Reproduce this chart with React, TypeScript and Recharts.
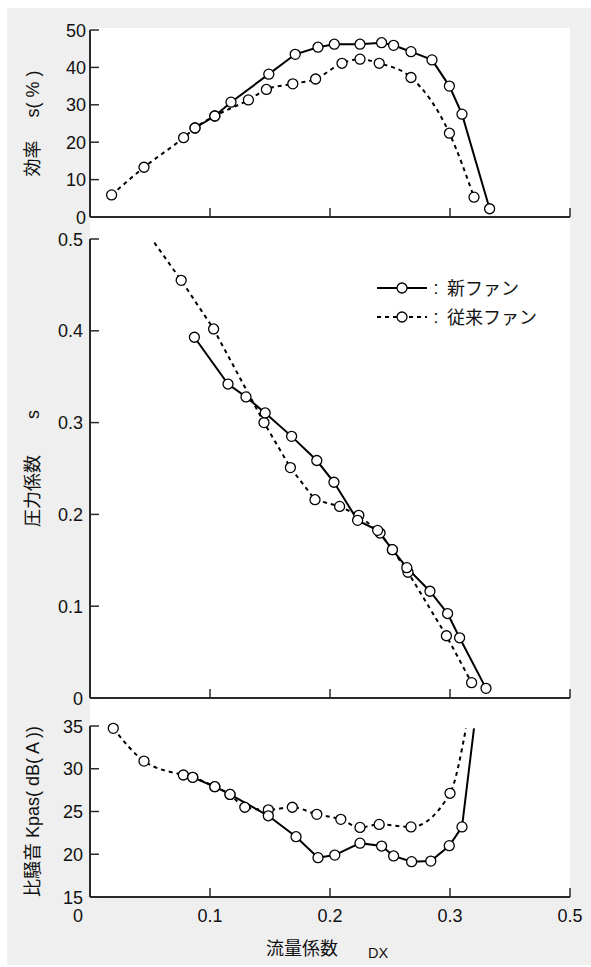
import React from 'react';
import { LineChart, Line, XAxis, YAxis, Legend } from 'recharts';

// ---------- axis ticks ----------
const xTicks = [0, 0.1, 0.2, 0.3, 0.4];
const xTickLabels = ['0', '0.1', '0.2', '0.3', '0.5'];
const effTicks = [0, 10, 20, 30, 40, 50];
const presTicks = [0, 0.1, 0.2, 0.3, 0.4, 0.5];
const noiseTicks = [15, 20, 25, 30, 35];

// ---------- series names / axis titles ----------
const seriesNames = ['新ファン', '従来ファン'];
const effTitle = '効率　 s( % )';
const presTitle = '圧力係数　　s';
const noiseTitle = '比騒音 Kpas( dB( A ))';
const xTitle = '流量係数';
const xSub = 'DX';

// ---------- efficiency (%) ----------
const effNewQ = [0.0875, 0.104, 0.1175, 0.149, 0.171, 0.19, 0.2036, 0.225, 0.243, 0.253, 0.2675, 0.285, 0.2995, 0.31, 0.333];
const effNewV = [23.8, 27, 30.7, 38.2, 43.5, 45.4, 46.2, 46.2, 46.6, 45.9, 44.2, 42, 35, 27.5, 2.2];
const effOldQ = [0.018, 0.045, 0.078, 0.0875, 0.104, 0.132, 0.147, 0.169, 0.188, 0.21, 0.225, 0.241, 0.2675, 0.2995, 0.32];
const effOldV = [5.9, 13.3, 21.2, 23.8, 27, 31.3, 34.1, 35.6, 36.9, 41.1, 42.2, 41.1, 37.3, 22.4, 5.3];

// ---------- pressure coefficient ----------
const presNewQ = [0.087, 0.115, 0.13, 0.146, 0.168, 0.189, 0.2033, 0.223, 0.2397, 0.252, 0.264, 0.2833, 0.298, 0.308, 0.33];
const presNewV = [0.393, 0.342, 0.328, 0.3105, 0.285, 0.2587, 0.235, 0.1935, 0.1826, 0.1616, 0.142, 0.1163, 0.092, 0.0656, 0.0105];
const presOldQ = [0.0536, 0.076, 0.103, 0.145, 0.167, 0.1875, 0.208, 0.224, 0.2417, 0.252, 0.265, 0.297, 0.318];
const presOldV = [0.496, 0.455, 0.402, 0.3, 0.251, 0.216, 0.2087, 0.199, 0.1797, 0.1616, 0.137, 0.0678, 0.0167];
const presOldBare = [0];

// ---------- specific noise ----------
const noiseNewQ = [0.0856, 0.104, 0.1167, 0.1486, 0.1717, 0.19, 0.204, 0.225, 0.243, 0.253, 0.268, 0.284, 0.2994, 0.31, 0.32];
const noiseNewV = [29.0, 27.9, 27.0, 24.5, 22.05, 19.6, 19.9, 21.3, 20.96, 19.8, 19.13, 19.2, 21.0, 23.2, 34.73];
const noiseNewBare = [14];
const noiseOldQ = [0.0194, 0.045, 0.0778, 0.0856, 0.104, 0.1167, 0.129, 0.1486, 0.1686, 0.189, 0.209, 0.225, 0.241, 0.2675, 0.3, 0.3133];
const noiseOldV = [34.73, 30.9, 29.27, 29.0, 27.9, 27.0, 25.5, 25.2, 25.5, 24.67, 24.08, 23.14, 23.49, 23.2, 27.13, 34.73];
const noiseOldBare = [15];

const zip = (q: number[], v: number[]) => q.map((x, i) => ({ q: x, v: v[i] }));

const FONT = '"Liberation Sans", Arial, "Noto Sans CJK JP", sans-serif';
const AXIS = '#2a2a2a';
const TICK_LEN = 9;

const makeDot = (bare: number[]) => (props: any) => {
  const { cx, cy, index } = props;
  if (bare.includes(index) || cx == null || cy == null) return <g key={`d${index}`} />;
  return <circle key={`d${index}`} cx={cx} cy={cy} r={5} fill="#fff" stroke="#000" strokeWidth={1.3} />;
};

const XTickMark = (props: any) => {
  const { x, y } = props;
  return <line x1={x} y1={y} x2={x} y2={y - TICK_LEN} stroke={AXIS} strokeWidth={1.5} />;
};

const XTickLabeled = (props: any) => {
  const { x, y, index } = props;
  const first = index === 0;
  return (
    <g>
      <line x1={x} y1={y} x2={x} y2={y - TICK_LEN} stroke={AXIS} strokeWidth={1.5} />
      <text x={first ? x - 7 : x} y={y + 25} textAnchor={first ? 'end' : 'middle'} fontSize={18} fill="#111" fontFamily={FONT}>
        {xTickLabels[index]}
      </text>
    </g>
  );
};

const makeYTick = (fmt: (v: number) => string, gap: number) => (props: any) => {
  const { x, y, payload } = props;
  return (
    <g>
      <line x1={x} y1={y} x2={x + TICK_LEN} y2={y} stroke={AXIS} strokeWidth={1.5} />
      <text x={x - gap} y={y + 6.5} textAnchor="end" fontSize={18} fill="#111" fontFamily={FONT}>
        {fmt(payload.value)}
      </text>
    </g>
  );
};

const makeYTitle = (title: string) => (props: any) => {
  const vb = props.viewBox || {};
  const cx = vb.x - 56;
  const cy = vb.y + vb.height / 2;
  return (
    <text x={cx} y={cy} transform={`rotate(-90 ${cx} ${cy})`} textAnchor="middle" dominantBaseline="central" fontSize={18} fill="#111" fontFamily={FONT}>
      {title}
    </text>
  );
};

const XTitle = (props: any) => {
  const vb = props.viewBox || {};
  return (
    <g>
      <text x={vb.x + 212} y={vb.y + 58} textAnchor="middle" fontSize={18} fill="#111" fontFamily={FONT}>{xTitle}</text>
      <text x={vb.x + 278} y={vb.y + 61} textAnchor="start" fontSize={14.5} fill="#111" fontFamily={FONT}>{xSub}</text>
    </g>
  );
};

const LegendBox = () => (
  <svg width={200} height={60} style={{ display: 'block' }}>
    {seriesNames.map((name, i) => {
      const y = 13 + i * 29;
      return (
        <g key={name}>
          <line x1={7} y1={y} x2={57} y2={y} stroke="#000" strokeWidth={2} strokeDasharray={i === 1 ? '4 4' : undefined} />
          <circle cx={32} cy={y} r={5} fill="#fff" stroke="#000" strokeWidth={1.3} />
          <text x={66} y={y + 6} textAnchor="middle" fontSize={18} fill="#111" fontFamily={FONT}>:</text>
          <text x={77} y={y + 6.5} fontSize={18} fill="#111" fontFamily={FONT}>{name}</text>
        </g>
      );
    })}
  </svg>
);

const W = 584;
const M_LEFT = 82;
const M_RIGHT = 21;

export default function App() {
  const lineCommon = { isAnimationActive: false, stroke: '#000', strokeWidth: 2, dataKey: 'v' } as const;
  return (
    <>
      <style>{`html,body{margin:0;padding:0;overflow:hidden;background:#fff}`}</style>
      <div style={{ position: 'relative', marginLeft: 7, marginTop: 8, width: W, height: 957, background: '#efefef', fontFamily: FONT }}>
        <div style={{ position: 'absolute', left: 83, top: 20, width: 480, height: 869, background: '#fff' }} />

        {/* efficiency */}
        <div style={{ position: 'absolute', left: 0, top: 0 }}>
          <LineChart width={W} height={222} margin={{ top: 22, right: M_RIGHT, bottom: 12, left: M_LEFT }}>
            <XAxis type="number" dataKey="q" domain={[0, 0.4]} ticks={xTicks} interval={0} height={1} tickSize={0} tickMargin={0}
              axisLine={{ stroke: AXIS, strokeWidth: 2 }} tickLine={false} tick={<XTickMark />} allowDataOverflow />
            <YAxis type="number" domain={[0, 50]} ticks={effTicks} interval={0} width={1} tickSize={0} tickMargin={0}
              axisLine={{ stroke: AXIS, strokeWidth: 2 }} tickLine={false} tick={makeYTick((v) => String(v), 4)}
              label={makeYTitle(effTitle)} />
            <Line {...lineCommon} data={zip(effOldQ, effOldV)} type="monotone" strokeDasharray="4 4" dot={makeDot([])} name={seriesNames[1]} />
            <Line {...lineCommon} data={zip(effNewQ, effNewV)} type="linear" dot={makeDot([])} name={seriesNames[0]} />
          </LineChart>
        </div>

        {/* pressure coefficient */}
        <div style={{ position: 'absolute', left: 0, top: 212 }}>
          <LineChart width={W} height={491} margin={{ top: 19, right: M_RIGHT, bottom: 12, left: M_LEFT }}>
            <XAxis type="number" dataKey="q" domain={[0, 0.4]} ticks={xTicks} interval={0} height={1} tickSize={0} tickMargin={0}
              axisLine={{ stroke: AXIS, strokeWidth: 2 }} tickLine={false} tick={<XTickMark />} allowDataOverflow />
            <YAxis type="number" domain={[0, 0.5]} ticks={presTicks} interval={0} width={1} tickSize={0} tickMargin={0}
              axisLine={{ stroke: AXIS, strokeWidth: 2 }} tickLine={false} tick={makeYTick((v) => (v === 0 ? '0' : v.toFixed(1)), 7)}
              label={makeYTitle(presTitle)} />
            <Legend layout="vertical" align="center" verticalAlign="middle" content={<LegendBox />}
              wrapperStyle={{ position: 'absolute', left: 363, top: 55, width: 200, height: 60 }} />
            <Line {...lineCommon} data={zip(presOldQ, presOldV)} type="linear" strokeDasharray="4 4" dot={makeDot(presOldBare)} name={seriesNames[1]} />
            <Line {...lineCommon} data={zip(presNewQ, presNewV)} type="linear" dot={makeDot([])} name={seriesNames[0]} />
          </LineChart>
        </div>

        {/* specific noise */}
        <div style={{ position: 'absolute', left: 0, top: 693 }}>
          <LineChart width={W} height={263} margin={{ top: 25, right: M_RIGHT, bottom: 66, left: M_LEFT }}>
            <XAxis type="number" dataKey="q" domain={[0, 0.4]} ticks={xTicks} interval={0} height={1} tickSize={0} tickMargin={0}
              axisLine={{ stroke: AXIS, strokeWidth: 2 }} tickLine={false} tick={<XTickLabeled />} allowDataOverflow
              label={<XTitle />} />
            <YAxis type="number" domain={[15, 35]} ticks={noiseTicks} interval={0} width={1} tickSize={0} tickMargin={0}
              axisLine={{ stroke: AXIS, strokeWidth: 2 }} tickLine={false} tick={makeYTick((v) => String(v), 7)}
              label={makeYTitle(noiseTitle)} />
            <Line {...lineCommon} data={zip(noiseOldQ, noiseOldV)} type="monotone" strokeDasharray="4 4" dot={makeDot(noiseOldBare)} name={seriesNames[1]} />
            <Line {...lineCommon} data={zip(noiseNewQ, noiseNewV)} type="linear" dot={makeDot(noiseNewBare)} name={seriesNames[0]} />
          </LineChart>
        </div>
      </div>
    </>
  );
}
